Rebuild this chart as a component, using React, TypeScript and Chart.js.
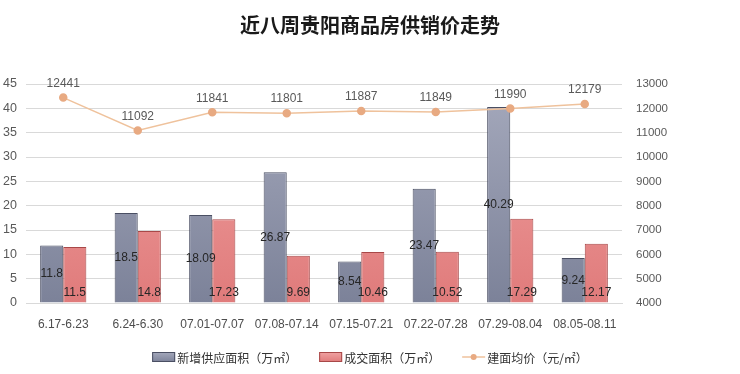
import React, { useEffect, useRef } from "react";
import { Chart, registerables } from "chart.js";

Chart.register(...registerables);

const TITLE = "近八周贵阳商品房供销价走势";
const CATEGORIES = ["6.17-6.23", "6.24-6.30", "07.01-07.07", "07.08-07.14", "07.15-07.21", "07.22-07.28", "07.29-08.04", "08.05-08.11"];
const SUPPLY = [11.8, 18.5, 18.09, 26.87, 8.54, 23.47, 40.29, 9.24];
const SALES = [11.5, 14.8, 17.23, 9.69, 10.46, 10.52, 17.29, 12.17];
const PRICE = [12441, 11092, 11841, 11801, 11887, 11849, 11990, 12179];
const SERIES_NAMES = ["新增供应面积（万㎡）", "成交面积（万㎡）", "建面均价（元/㎡）"];
const LEFT_TICKS = { min: 0, max: 45, step: 5 };
const RIGHT_TICKS = { min: 4000, max: 13000, step: 1000 };

const NUM_FONT = "'Liberation Sans', sans-serif";
const CJK_FONT = "'Noto Sans CJK SC', sans-serif";

const SUPPLY_TOP = "#a5a9bc";
const SUPPLY_BOT = "#7c8299";
const SUPPLY_BORDER = "#4a4f63";
const SALES_TOP = "#f0a3a3";
const SALES_BOT = "#e07b7b";
const SALES_BORDER = "#a84848";
const LINE_COLOR = "#efc29c";
const POINT_COLOR = "#e8aa82";

function gradient(top: string, bottom: string) {
  return (ctx: any) => {
    const chart = ctx.chart;
    const area = chart.chartArea;
    if (!area) return bottom;
    const g = chart.ctx.createLinearGradient(0, area.top, 0, area.bottom);
    g.addColorStop(0, top);
    g.addColorStop(1, bottom);
    return g;
  };
}

const labelsPlugin = {
  id: "customLabels",
  afterDatasetsDraw(chart: any) {
    const ctx = chart.ctx;
    ctx.save();
    ctx.textAlign = "center";
    ctx.textBaseline = "middle";
    ctx.font = `12px ${NUM_FONT}`;
    const m0 = chart.getDatasetMeta(0);
    m0.data.forEach((el: any, i: number) => {
      ctx.fillStyle = "#262626";
      ctx.fillText(String(SUPPLY[i]), el.x, (el.y + el.base) / 2);
    });
    const m1 = chart.getDatasetMeta(1);
    m1.data.forEach((el: any, i: number) => {
      ctx.fillStyle = "#262626";
      ctx.fillText(String(SALES[i]), el.x, el.base - 10);
    });
    const m2 = chart.getDatasetMeta(2);
    m2.data.forEach((el: any, i: number) => {
      ctx.fillStyle = "#595959";
      ctx.fillText(String(PRICE[i]), el.x, el.y - 14);
    });
    ctx.restore();
  },
  afterDraw(chart: any) {
    const ctx = chart.ctx;
    ctx.save();
    // title
    ctx.font = `bold 20px ${CJK_FONT}`;
    ctx.fillStyle = "#1a1a1a";
    ctx.textAlign = "center";
    ctx.textBaseline = "middle";
    ctx.fillText(TITLE, chart.width / 2, 25);
    // legend
    ctx.font = `12px ${CJK_FONT}`;
    ctx.textAlign = "left";
    const boxW = 23;
    const gap = 2;
    const itemGap = 22;
    const widths = SERIES_NAMES.map((t) => boxW + gap + ctx.measureText(t).width);
    const total = widths.reduce((a, b) => a + b, 0) + itemGap * (widths.length - 1);
    let x = chart.width / 2 - total / 2;
    const y = 357;
    SERIES_NAMES.forEach((t, i) => {
      if (i === 0 || i === 1) {
        const g = ctx.createLinearGradient(0, y - 5, 0, y + 5);
        g.addColorStop(0, i === 0 ? SUPPLY_TOP : SALES_TOP);
        g.addColorStop(1, i === 0 ? SUPPLY_BOT : SALES_BOT);
        ctx.fillStyle = g;
        ctx.fillRect(x, y - 5, boxW, 10);
        ctx.strokeStyle = i === 0 ? SUPPLY_BORDER : SALES_BORDER;
        ctx.lineWidth = 1;
        ctx.strokeRect(x + 0.5, y - 4.5, boxW - 1, 9);
      } else {
        ctx.strokeStyle = LINE_COLOR;
        ctx.lineWidth = 1.5;
        ctx.beginPath();
        ctx.moveTo(x, y);
        ctx.lineTo(x + boxW, y);
        ctx.stroke();
        ctx.fillStyle = POINT_COLOR;
        ctx.beginPath();
        ctx.arc(x + boxW / 2, y, 3, 0, Math.PI * 2);
        ctx.fill();
      }
      ctx.fillStyle = "#333333";
      ctx.fillText(t, x + boxW + gap, y + 1);
      x += widths[i] + itemGap;
    });
    ctx.restore();
  },
};

export default function App() {
  const ref = useRef<HTMLCanvasElement>(null);
  useEffect(() => {
    if (!ref.current) return;
    const chart = new Chart(ref.current, {
      type: "bar",
      data: {
        labels: CATEGORIES,
        datasets: [
          {
            type: "bar",
            label: SERIES_NAMES[0],
            data: SUPPLY,
            yAxisID: "y",
            backgroundColor: gradient(SUPPLY_TOP, SUPPLY_BOT),
            borderColor: SUPPLY_BORDER,
            borderWidth: 1,
            categoryPercentage: 0.62,
            barPercentage: 1.0,
            order: 2,
          },
          {
            type: "bar",
            label: SERIES_NAMES[1],
            data: SALES,
            yAxisID: "y",
            backgroundColor: gradient(SALES_TOP, SALES_BOT),
            borderColor: SALES_BORDER,
            borderWidth: 1,
            categoryPercentage: 0.62,
            barPercentage: 1.0,
            order: 2,
          },
          {
            type: "line",
            label: SERIES_NAMES[2],
            data: PRICE,
            yAxisID: "y1",
            borderColor: LINE_COLOR,
            borderWidth: 1.5,
            pointRadius: 3.5,
            pointBackgroundColor: POINT_COLOR,
            pointBorderColor: POINT_COLOR,
            tension: 0,
            order: 1,
          } as any,
        ],
      },
      options: {
        animation: false,
        responsive: false,
        maintainAspectRatio: false,
        layout: { padding: { top: 84, bottom: 40, left: 0, right: 0 } },
        plugins: {
          legend: { display: false },
          title: { display: false },
          tooltip: { enabled: false },
        },
        scales: {
          x: {
            grid: { display: false },
            border: { display: true, color: "#d9d9d9" },
            ticks: { color: "#4d4d4d", font: { size: 12, family: NUM_FONT }, padding: 6, maxRotation: 0, autoSkip: false },
            afterFit: (s: any) => { s.height = 31; },
          },
          y: {
            position: "left",
            min: LEFT_TICKS.min,
            max: LEFT_TICKS.max,
            ticks: { stepSize: LEFT_TICKS.step, color: "#595959", font: { size: 12.5, family: NUM_FONT }, padding: 9, callback: (v: any) => String(v) },
            grid: { color: "#d9d9d9", drawTicks: false },
            border: { display: false },
            afterFit: (s: any) => { s.width = 26; },
          },
          y1: {
            position: "right",
            min: RIGHT_TICKS.min,
            max: RIGHT_TICKS.max,
            ticks: { stepSize: RIGHT_TICKS.step, color: "#595959", font: { size: 11.5, family: NUM_FONT }, padding: 14, callback: (v: any) => String(v) },
            grid: { display: false, drawTicks: false },
            border: { display: false },
            afterFit: (s: any) => { s.width = 118; },
          },
        },
      },
      plugins: [labelsPlugin],
    });
    return () => chart.destroy();
  }, []);
  return (
    <div style={{ position: "fixed", left: 0, top: 0, width: 740, height: 374, background: "#fff" }}>
      <canvas ref={ref} width={740} height={374} style={{ width: 740, height: 374, display: "block" }} />
    </div>
  );
}
